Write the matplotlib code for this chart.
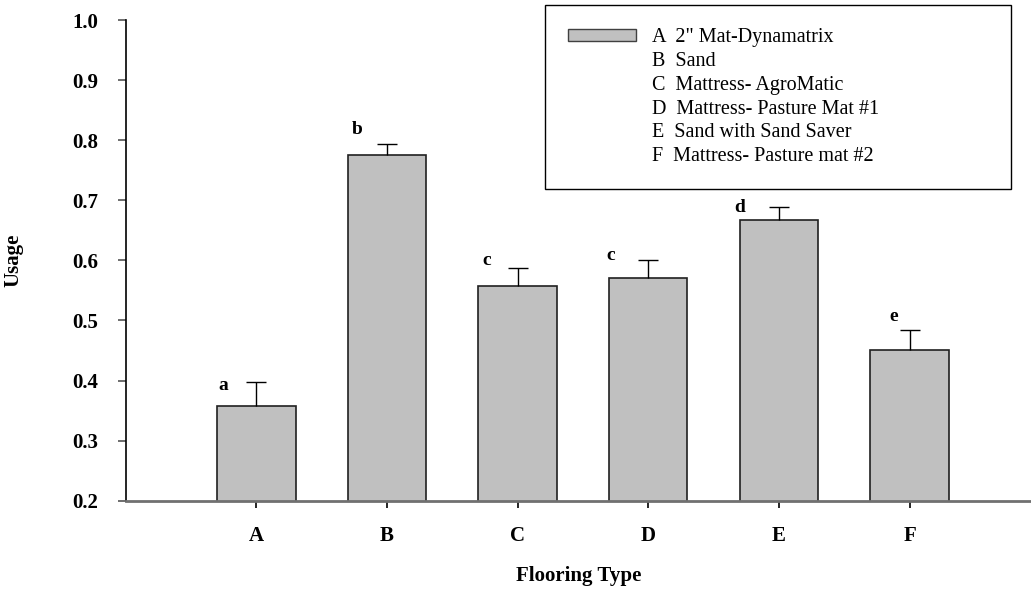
import numpy as np
import matplotlib.pyplot as plt
from matplotlib.patches import Patch

plt.rcParams['font.family'] = ['Liberation Serif', 'DejaVu Serif']

categories = ['A', 'B', 'C', 'D', 'E', 'F']
usage = [0.358, 0.776, 0.558, 0.570, 0.667, 0.450]
err = [0.039, 0.017, 0.030, 0.030, 0.021, 0.034]
groups = ['a', 'b', 'c', 'c', 'd', 'e']
legend_labels = ['A  2" Mat-Dynamatrix', 'B  Sand', 'C  Mattress- AgroMatic',
                 'D  Mattress- Pasture Mat #1', 'E  Sand with Sand Saver',
                 'F  Mattress- Pasture mat #2']

# nudges for the significance letters (x in bar units, y in usage units)
letter_dx = [-0.25, -0.23, -0.24, -0.29, -0.30, -0.12]
letter_dy = [-0.005, 0.025, 0.012, 0.008, 0.0, 0.023]

x = np.arange(len(categories))

fig = plt.figure(figsize=(10.31, 5.92), dpi=100)
ax = fig.add_axes([0.1219, 0.1542, 0.8781, 0.812])

ax.bar(x, usage, width=0.6, bottom=0, color='#c0c0c0', edgecolor='#202020',
       linewidth=1.2, zorder=2)
eb = ax.errorbar(x, usage, yerr=[np.zeros(len(err)), err], fmt='none',
                 ecolor='black', elinewidth=1, capsize=7, capthick=1, zorder=3)
# only the upper caps are drawn
for cap in eb[1]:
    if np.allclose(cap.get_ydata(), usage):
        cap.set_visible(False)

for i in range(len(x)):
    ax.text(x[i] + letter_dx[i], usage[i] + err[i] + letter_dy[i], groups[i],
            ha='center', va='center', fontsize=14, fontweight='bold')

ax.set_xlim(-1, 5.93)
ax.set_ylim(0.2, 1.0)
ax.set_yticks(np.arange(0.2, 1.01, 0.1))
ax.set_yticklabels(['%.1f' % v for v in np.arange(0.2, 1.01, 0.1)],
                   fontsize=15, fontweight='bold')
ax.set_xticks(x)
ax.set_xticklabels(categories, fontsize=15, fontweight='bold')

ax.spines['top'].set_visible(False)
ax.spines['right'].set_visible(False)
ax.spines['left'].set_color('black')
ax.spines['left'].set_linewidth(1.2)
ax.spines['bottom'].set_color('#707070')
ax.spines['bottom'].set_linewidth(2)
ax.tick_params(axis='y', direction='out', length=6, width=1.2, color='#555555', pad=14)
ax.tick_params(axis='x', direction='out', length=5, width=1.2, color='black', pad=13)

ax.set_ylabel('Usage', fontsize=15, fontweight='bold')
ax.yaxis.set_label_coords(-0.113, 0.5)
ax.set_xlabel('Flooring Type', fontsize=15, fontweight='bold')
ax.xaxis.set_label_coords(0.5, -0.135)

handles = [Patch(facecolor='#c0c0c0', edgecolor='#404040', linewidth=1)]
handles += [Patch(facecolor='none', edgecolor='none') for _ in legend_labels[1:]]
leg = fig.legend(handles, legend_labels, loc='upper left',
                 bbox_to_anchor=(0.5283, 0.6807, 0.4523, 0.3109),
                 mode='expand', borderaxespad=0, fontsize=14.5,
                 handlelength=3.4, handleheight=0.5, handletextpad=0.8,
                 labelspacing=0.24, borderpad=1.15, fancybox=False,
                 edgecolor='black', framealpha=1)
leg.get_frame().set_linewidth(1)

plt.savefig('out.png', dpi=100)
